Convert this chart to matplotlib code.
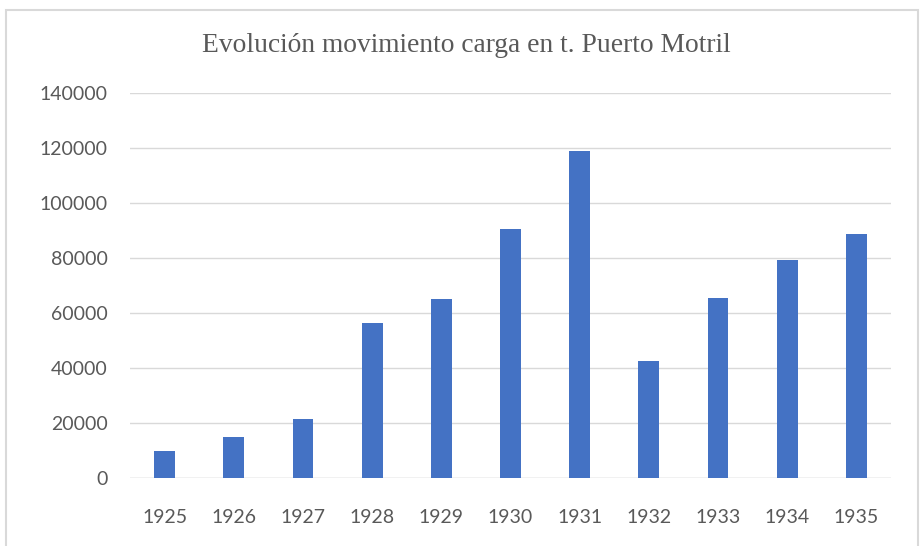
import numpy as np
import matplotlib.pyplot as plt
from matplotlib.patches import Rectangle

years = ['1925', '1926', '1927', '1928', '1929', '1930', '1931', '1932', '1933', '1934', '1935']
carga = [9900, 14800, 21600, 56200, 65100, 90300, 118800, 42400, 65400, 79200, 88500]
yticks = [0, 20000, 40000, 60000, 80000, 100000, 120000, 140000]

grey_txt = '#595959'
grid_col = '#d9d9d9'

fig = plt.figure(figsize=(9.23, 5.46), dpi=100)
ax = fig.add_axes([130/923, 1-478/546, (891-130)/923, (478-92.5)/546])

x = np.arange(len(years))
ax.bar(x, carga, width=0.30, color='#4472c4', zorder=3)

ax.set_xlim(-0.5, len(years)-0.5)
ax.set_ylim(0, 140000)
ax.set_yticks(yticks)
ax.set_yticklabels([str(v) for v in yticks])
ax.set_xticks(x)
ax.set_xticklabels(years)
ax.yaxis.grid(True, color=grid_col, linewidth=1.0, zorder=0)
for s in ax.spines.values():
    s.set_visible(False)
ax.axhline(0, color=grid_col, linewidth=1.0, zorder=2)
ax.tick_params(axis='both', length=0, labelsize=14, labelcolor=grey_txt)
ax.tick_params(axis='y', pad=16)
ax.tick_params(axis='x', pad=22.5)
for lab in ax.get_xticklabels() + ax.get_yticklabels():
    lab.set_fontfamily('Lato')

fig.text(466/923, 1-45/546, 'Evolución movimiento carga en t. Puerto Motril',
         ha='center', va='center', fontsize=19.8, color=grey_txt,
         family='Liberation Serif')

# chart border
fig.patches.append(Rectangle((6/923, -0.02), (918-6)/923, 1.02-10/546,
                             transform=fig.transFigure, fill=False,
                             edgecolor=grid_col, linewidth=1.5))

fig.savefig('out.png', dpi=100)
